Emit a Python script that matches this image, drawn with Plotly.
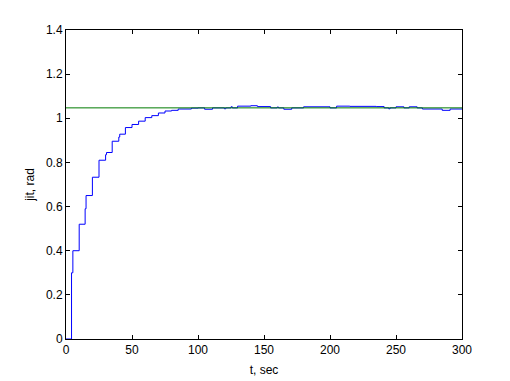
import math
import plotly.graph_objects as go

# Staircase response (ZOH output)
t_steps = [0, 4.2, 5.2, 10, 14.5, 15.2, 20, 25, 30, 30.7, 35, 40, 40.7, 45, 50, 55,
           60, 65, 70, 75, 80, 85, 95, 100, 105, 111, 120, 121, 125, 126, 130, 140,
           145, 155, 160, 161, 165, 171, 180, 200, 205, 215, 235, 241, 244.5, 245.5,
           250, 256, 260, 266, 270, 285, 291, 300]
jit_vals = [0, 0.30, 0.40, 0.52, 0.59, 0.65, 0.733, 0.81, 0.835, 0.845, 0.896, 0.915,
            0.928, 0.958, 0.972, 0.987, 1.003, 1.012, 1.024, 1.033, 1.036, 1.042, 1.046,
            1.047, 1.041, 1.047, 1.043, 1.047, 1.052, 1.047, 1.055, 1.057, 1.053, 1.047,
            1.051, 1.047, 1.041, 1.047, 1.052, 1.047, 1.055, 1.054, 1.053, 1.047, 1.043,
            1.047, 1.052, 1.047, 1.052, 1.047, 1.042, 1.036, 1.042, 1.042]

ref_t = [0, 300]
ref_val = [math.pi / 3, math.pi / 3]

x_ticks = [0, 50, 100, 150, 200, 250, 300]
y_ticks = [0, 0.2, 0.4, 0.6, 0.8, 1.0, 1.2, 1.4]
y_tick_text = ["0", "0.2", "0.4", "0.6", "0.8", "1", "1.2", "1.4"]

fig = go.Figure()
fig.add_trace(go.Scatter(x=t_steps, y=jit_vals, mode="lines", line_shape="hv",
                         line=dict(color="#0000FF", width=1), showlegend=False))
fig.add_trace(go.Scatter(x=ref_t, y=ref_val, mode="lines",
                         line=dict(color="#007A00", width=1), showlegend=False))

axis_common = dict(showline=True, linecolor="black", linewidth=1, mirror="ticks",
                   ticks="inside", ticklen=4, tickcolor="black", showgrid=False,
                   zeroline=False, automargin=False,
                   tickfont=dict(size=12, color="black"))

fig.update_xaxes(range=[0, 300], tickvals=x_ticks,
                 title=dict(text="t, sec", standoff=9, font=dict(size=12)),
                 **axis_common)
fig.update_yaxes(range=[0, 1.4], tickvals=y_ticks, ticktext=y_tick_text,
                 title=dict(text="jit, rad", standoff=8, font=dict(size=12)),
                 **axis_common)

fig.update_layout(width=510, height=381, margin=dict(l=66, r=48, t=30, b=42),
                  paper_bgcolor="white", plot_bgcolor="white",
                  font=dict(family="Liberation Sans, Arial, sans-serif", size=12, color="black"))

fig.write_html("out.html")
